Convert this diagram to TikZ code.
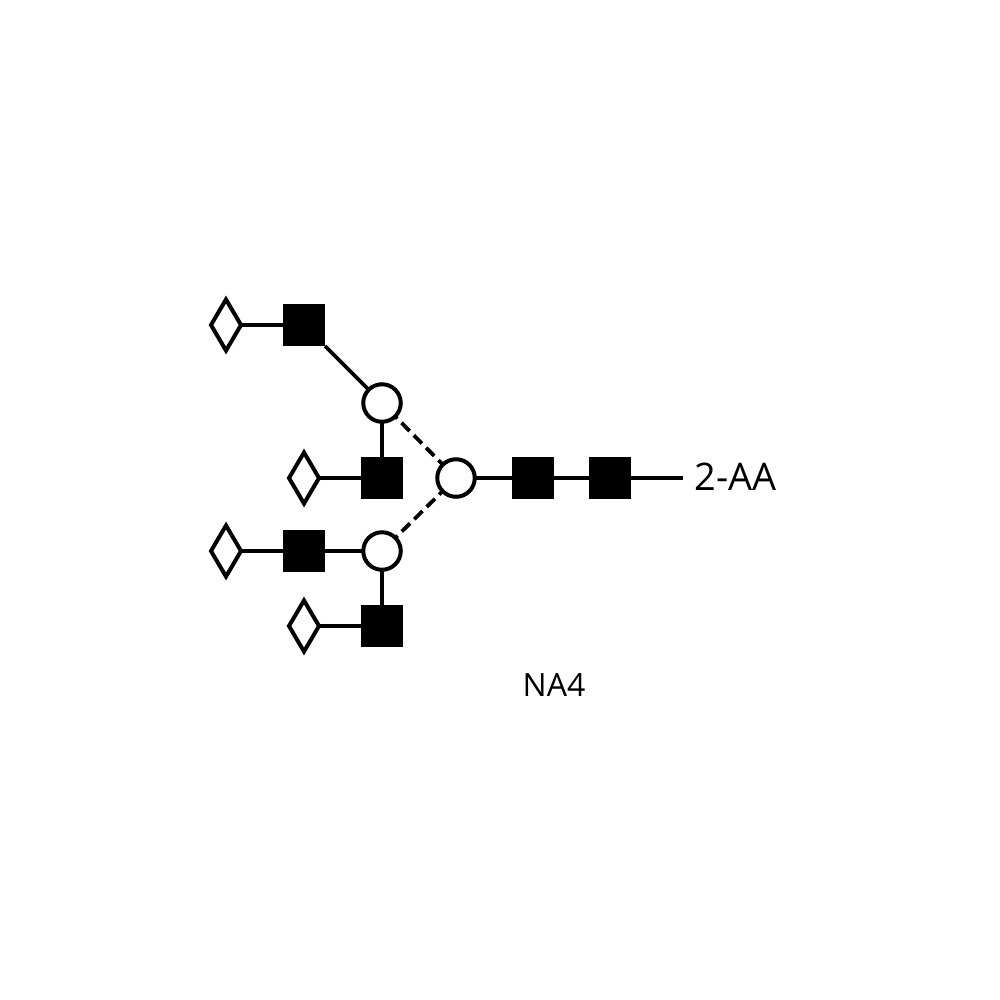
\documentclass[tikz,border=0pt]{standalone}
\usepackage{fontspec}
\setmainfont{Open Sans}
\usetikzlibrary{shapes.geometric}
\tikzset{
  glcnac/.style={rectangle, fill=black, inner sep=0pt, outer sep=0pt, minimum size=0.42cm},
  man/.style={circle, draw, fill=white, line width=0.04cm, inner sep=0pt, outer sep=0pt, minimum size=0.375cm},
  gal/.style={diamond, draw, fill=white, line width=0.04cm, inner sep=0pt, outer sep=0pt, minimum width=0.30cm, minimum height=0.51cm},
  bond/.style={line width=0.038cm},
  armbond/.style={bond, dash pattern=on 0.115cm off 0.06cm, dash phase=0.085cm}
}
\begin{document}
\begin{tikzpicture}[x=0.01cm, y=-0.01cm]
  \useasboundingbox (0,0) rectangle (1000,1000);
  \node[gal] (gal1) at (226,325) {};
  \node[glcnac] (glcnac1) at (304,325) {};
  \node[man] (man1) at (382,403) {};
  \node[gal] (gal2) at (304,478) {};
  \node[glcnac] (glcnac2) at (382,478) {};
  \node[man] (core) at (456,478) {};
  \node[glcnac] (chito1) at (533,478) {};
  \node[glcnac] (chito2) at (610,478) {};
  \node[gal] (gal3) at (226,551) {};
  \node[glcnac] (glcnac3) at (304,551) {};
  \node[man] (man2) at (382,551) {};
  \node[gal] (gal4) at (304,626) {};
  \node[glcnac] (glcnac4) at (382,626) {};
  \coordinate (tail) at (683,478);
  \node[anchor=west, inner sep=0pt, font=\fontsize{10.8pt}{13pt}\selectfont] (aa) at (694,477) {2-AA};
  \node[inner sep=0pt, font=\fontsize{9.1pt}{12pt}\selectfont] (name) at (554,685) {NA4};
  \draw[bond] (gal1) -- (glcnac1);
  \draw[bond] (glcnac1) -- (man1);
  \draw[bond] (man1) -- (glcnac2);
  \draw[bond] (gal2) -- (glcnac2);
  \draw[bond] (gal3) -- (glcnac3);
  \draw[bond] (glcnac3) -- (man2);
  \draw[bond] (man2) -- (glcnac4);
  \draw[bond] (gal4) -- (glcnac4);
  \draw[armbond] (man1) -- (core);
  \draw[armbond] (man2) -- (core);
  \draw[bond] (core) -- (chito1);
  \draw[bond] (chito1) -- (chito2);
  \draw[bond] (chito2) -- (tail);
\end{tikzpicture}
\end{document}
